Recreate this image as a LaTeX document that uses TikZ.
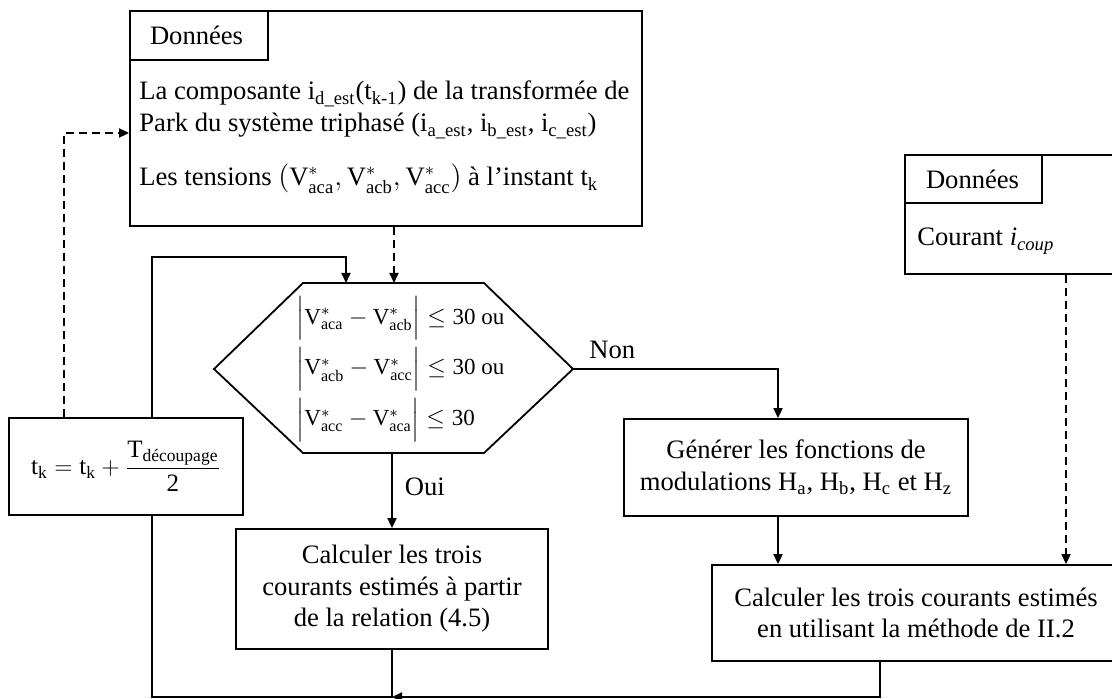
\documentclass[tikz,border=0pt]{standalone}
\usepackage{amsmath}
\usepackage{fontspec}
\setmainfont{Liberation Serif}
\setmathrm{Liberation Serif}
\usetikzlibrary{arrows.meta}
\tikzset{
  txt/.style={inner sep=0pt, font=\fontsize{13.3}{15.75}\selectfont},
  box/.style={draw, line width=0.9pt, inner sep=0pt},
  plain/.style={line width=0.9pt},
  flow/.style={line width=0.9pt, -{Triangle[length=5pt,width=4.5pt]}},
  dflow/.style={flow, dash pattern=on 4pt off 2.5pt},
}
\begin{document}
\begin{tikzpicture}[x=0.5pt,y=-0.5pt]
\useasboundingbox (0,0) rectangle (1112,699);
\clip (0,0) rectangle (1112,699);

% top data box
\node[box, minimum width=256pt, minimum height=107.5pt] (top) at (386,118.5) {};
\node[box, txt, anchor=north west, inner xsep=10pt, text width=49pt, align=left,
      minimum height=24.5pt] (tab1) at (top.north west) {Données};
\node[txt, anchor=base west] (t1) at (139,100)
  {La composante i\textsubscript{d\_est}(t\textsubscript{k-1}) de la transformée de};
\node[txt, anchor=base west] (t2) at (139,132)
  {Park du système triphasé (i\textsubscript{a\_est}, i\textsubscript{b\_est}, i\textsubscript{c\_est})};
\node[txt, anchor=base west] (t3) at (139,186)
  {Les tensions $\left(\mathrm{V}^{*}_{\mathrm{aca}}, \mathrm{V}^{*}_{\mathrm{acb}}, \mathrm{V}^{*}_{\mathrm{acc}}\right)$ à l’instant t\textsubscript{k}};

% hexagon decision
\coordinate (hexW) at (214,369);
\coordinate (hexNW) at (303,283);
\coordinate (hexNE) at (484,283);
\coordinate (hexE) at (573,369);
\coordinate (hexSE) at (484,453);
\coordinate (hexSW) at (303,453);
\coordinate (hexS) at (392,453);
\coordinate (hexIn1) at (346,283);
\coordinate (hexIn2) at (394,283);
\draw[plain] (hexW) -- (hexNW) -- (hexNE) -- (hexE) -- (hexSE) -- (hexSW) -- cycle;
\node[inner sep=0pt, anchor=west, align=left, font=\fontsize{11.5}{25.5}\selectfont] (cond) at (296,369)
  {$\Bigl|\mathrm{V}^{*}_{\mathrm{aca}}-\mathrm{V}^{*}_{\mathrm{acb}}\Bigr|\le\mathrm{30}$ ou\\
   $\Bigl|\mathrm{V}^{*}_{\mathrm{acb}}-\mathrm{V}^{*}_{\mathrm{acc}}\Bigr|\le\mathrm{30}$ ou\\
   $\Bigl|\mathrm{V}^{*}_{\mathrm{acc}}-\mathrm{V}^{*}_{\mathrm{aca}}\Bigr|\le\mathrm{30}$};

% update box
\node[box, minimum width=117pt, minimum height=48.5pt, font=\fontsize{12.5}{14}\selectfont] (upd) at (126,466.5)
  {$\mathrm{t}_{\mathrm{k}}=\mathrm{t}_{\mathrm{k}}+\dfrac{\mathrm{T}_{\text{découpage}}}{\mathrm{2}}$};

% calc 1
\node[box, txt, minimum width=156pt, minimum height=60pt, align=center] (calc1) at (392,589)
  {Calculer les trois\\courants estimés à partir\\de la relation (4.5)};

% generate box
\node[box, txt, minimum width=172pt, minimum height=48.5pt, align=center] (gen) at (796,467.5)
  {Générer les fonctions de\\modulations H\textsubscript{a}, H\textsubscript{b}, H\textsubscript{c} et H\textsubscript{z}};

% calc 2
\node[box, txt, minimum width=204pt, minimum height=48pt, align=center] (calc2) at (916,613)
  {Calculer les trois courants estimés\\en utilisant la méthode de II.2};

% right data box
\node[box, minimum width=107.5pt, minimum height=59.5pt] (data2) at (1012.5,214.5) {};
\node[box, txt, anchor=north west, inner xsep=10.5pt, text width=47.5pt, align=left,
      minimum height=24pt] (tab2) at (data2.north west) {Données};
\node[txt, anchor=base west] (d2t) at (917,246) {Courant \textit{i}\textsubscript{\textit{coup}}};

% connectors
\coordinate (topIn) at (top.west |- 0,133);
\draw[dflow] ([xshift=-31pt]upd.north) |- (topIn);
\draw[dflow] ([xshift=4pt]top.south) -- (hexIn2);

\coordinate (fbkTurn) at (152,257);
\draw[flow] ([xshift=13pt]upd.north) -- (fbkTurn) -| (hexIn1);

\draw[flow] (hexS) -- node[txt, right=6pt, pos=0.45] (oui) {Oui} (calc1.north);

\coordinate (genIn) at ([xshift=-9pt]gen.north);
\draw[flow] (hexE) -| (genIn);
\node[txt, anchor=base west] (non) at (589,359) {Non};

\coordinate (genOut) at ([xshift=-9pt]gen.south);
\draw[flow] (genOut) -- (genOut |- calc2.north);

\coordinate (d2out) at ([xshift=26.75pt]data2.south);
\draw[dflow] (d2out) -- (d2out |- calc2.north);

\coordinate (bot) at (calc1.south |- 0,697);
\coordinate (botL) at (152,697);
\coordinate (c2out) at ([xshift=-18pt]calc2.south);
\draw[flow] (c2out) |- (bot);
\draw[plain] (calc1.south) -- (bot) -- (botL) -- ([xshift=13pt]upd.south);
\end{tikzpicture}
\end{document}
